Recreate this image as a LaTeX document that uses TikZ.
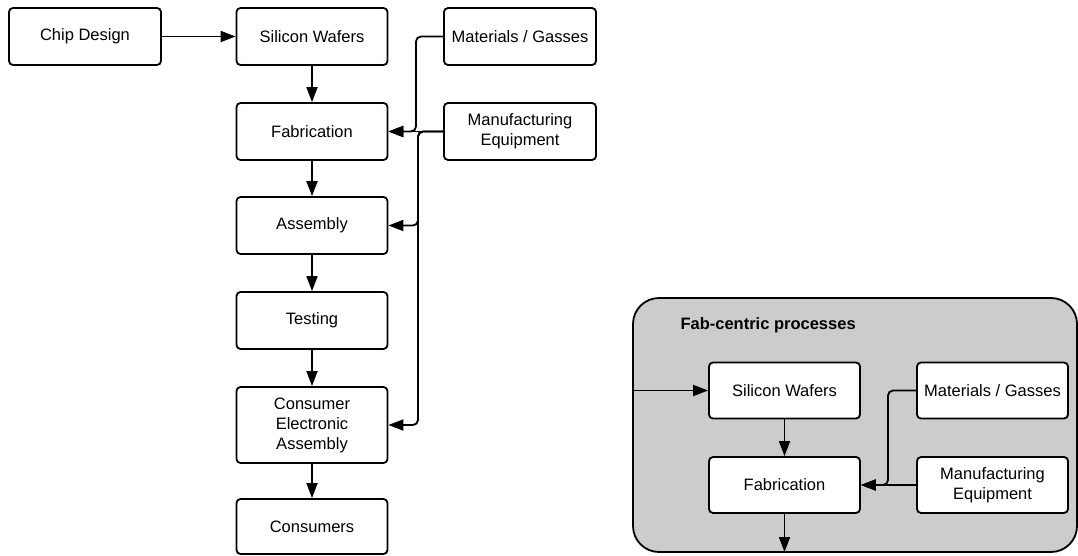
\documentclass[tikz,border=0pt]{standalone}
\usepackage{fontspec}
\setmainfont{Liberation Sans}
\usetikzlibrary{arrows.meta}
\begin{document}
\begin{tikzpicture}[x=1pt,y=-1pt,
  box/.style={draw=black, fill=white, line width=1.8pt, rounded corners=4pt,
    minimum width=#1, minimum height=57pt, inner sep=0pt, align=center,
    font=\fontsize{16.5}{20}\selectfont},
  box/.default=151pt,
  flow/.style={line width=1.8pt, -{Triangle[length=15pt,width=11pt]}},
  feed/.style={flow, rounded corners=5pt},
  group/.style={draw=black, fill=black!20, line width=1.8pt, rounded corners=26pt}]
\useasboundingbox (0,0) rectangle (1078,556);

% supply chain
\node[box=152pt] (chip) at (85,36.5) {Chip Design};
\node[box] (wafer) at (312,36.5) {Silicon Wafers};
\node[box=152pt] (mat) at (520,36.5) {Materials / Gasses};
\node[box] (fab) at (312,131.5) {Fabrication};
\node[box=152pt] (equip) at (520,131.5) {Manufacturing\\Equipment};
\node[box] (asm) at (312,225.5) {Assembly};
\node[box] (test) at (312,320.5) {Testing};
\node[box, minimum height=76pt] (cea) at (312,425) {Consumer\\Electronic\\Assembly};
\node[box, minimum height=55pt] (cons) at (312,526.5) {Consumers};

\draw[flow] (chip) -- (wafer);
\draw[flow] (wafer) -- (fab);
\draw[flow] (fab) -- (asm);
\draw[flow] (asm) -- (test);
\draw[flow] (test) -- (cea);
\draw[flow] (cea) -- (cons);

\draw[feed] (mat.west) -- (416,36.5) -- (416,131.5) -- (fab.east);
\draw[flow] (equip.west) -- (fab.east);
\draw[feed] (equip.west) -- (418,131.5) -- (418,225.5) -- (asm.east);
\draw[feed] (equip.west) -- (418,131.5) -- (418,425) -- (cea.east);

% fab-centric group
\draw[group] (633,298) rectangle (1077,552);
\node[anchor=base west, font=\fontsize{16.5}{20}\selectfont\bfseries] (title) at (677,329) {Fab-centric processes};
\coordinate (gin) at (633,390.5);
\coordinate (gout) at (784.5,552);
\node[box, minimum height=56pt] (gwafer) at (784.5,390.5) {Silicon Wafers};
\node[box, minimum height=56pt] (gmat) at (992.5,390.5) {Materials / Gasses};
\node[box, minimum height=56pt] (gfab) at (784.5,485) {Fabrication};
\node[box, minimum height=56pt] (gequip) at (992.5,485) {Manufacturing\\Equipment};

\draw[flow] (gin) -- (gwafer);
\draw[flow] (gwafer) -- (gfab);
\draw[feed] (gmat.west) -- (888,390.5) -- (888,485) -- (gfab.east);
\draw[flow] (gequip) -- (gfab);
\draw[flow] (gfab) -- (gout);
\end{tikzpicture}
\end{document}
